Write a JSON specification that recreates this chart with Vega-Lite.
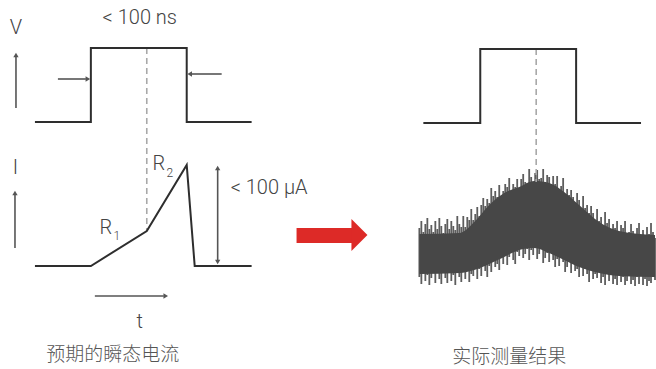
{
  "$schema": "https://vega.github.io/schema/vega-lite/v6.json",
  "width": 656,
  "height": 369,
  "autosize": {"type": "fit", "contains": "padding"},
  "padding": 0,
  "background": "white",
  "config": {"view": {"stroke": null}},
  "datasets": {
    "pulses": [
      {"series": "V理想", "i": 1, "x": 35, "y": 122},
      {"series": "V理想", "i": 2, "x": 91, "y": 122},
      {"series": "V理想", "i": 3, "x": 91, "y": 48},
      {"series": "V理想", "i": 4, "x": 187, "y": 48},
      {"series": "V理想", "i": 5, "x": 187, "y": 122},
      {"series": "V理想", "i": 6, "x": 252, "y": 122},
      {"series": "I理想", "i": 1, "x": 35, "y": 266},
      {"series": "I理想", "i": 2, "x": 91, "y": 266},
      {"series": "I理想", "i": 3, "x": 147, "y": 231},
      {"series": "I理想", "i": 4, "x": 187, "y": 165},
      {"series": "I理想", "i": 5, "x": 195, "y": 266},
      {"series": "I理想", "i": 6, "x": 252, "y": 266},
      {"series": "V实际", "i": 1, "x": 424, "y": 123},
      {"series": "V实际", "i": 2, "x": 481, "y": 123},
      {"series": "V实际", "i": 3, "x": 481, "y": 49},
      {"series": "V实际", "i": 4, "x": 577, "y": 49},
      {"series": "V实际", "i": 5, "x": 577, "y": 123},
      {"series": "V实际", "i": 6, "x": 642, "y": 123}
    ],
    "dashes": [
      {"x": 147, "y": 48, "x2": 147, "y2": 231},
      {"x": 537, "y": 49, "x2": 537, "y2": 182}
    ],
    "arrows": [
      {"x": 16, "y": 108, "x2": 16, "y2": 57},
      {"x": 15, "y": 248, "x2": 15, "y2": 195},
      {"x": 58, "y": 79, "x2": 86, "y2": 79},
      {"x": 222, "y": 74, "x2": 192, "y2": 74},
      {"x": 218, "y": 170, "x2": 218, "y2": 260},
      {"x": 95, "y": 296, "x2": 164, "y2": 296}
    ],
    "heads": [
      {"x": 16, "y": 55, "dir": "up"},
      {"x": 15, "y": 193, "dir": "up"},
      {"x": 88, "y": 79, "dir": "right"},
      {"x": 190, "y": 74, "dir": "left"},
      {"x": 218, "y": 168, "dir": "up"},
      {"x": 218, "y": 262, "dir": "down"},
      {"x": 166, "y": 296, "dir": "right"}
    ],
    "redShaft": [{"x": 297, "x2": 353, "y": 228, "y2": 243}],
    "redHead": [
      {"x": 352, "y": 219, "y2": 251},
      {"x": 368, "y": 235, "y2": 235}
    ],
    "noiseTrace": [
      {"x": 420, "y": 228, "y2": 277}, {"x": 422, "y": 221, "y2": 284}, {"x": 424, "y": 232, "y2": 272},
      {"x": 426, "y": 224, "y2": 281}, {"x": 428, "y": 218, "y2": 275}, {"x": 430, "y": 229, "y2": 285},
      {"x": 432, "y": 225, "y2": 278}, {"x": 434, "y": 232, "y2": 271}, {"x": 436, "y": 221, "y2": 283},
      {"x": 438, "y": 229, "y2": 273}, {"x": 440, "y": 218, "y2": 279}, {"x": 442, "y": 226, "y2": 284},
      {"x": 444, "y": 233, "y2": 269}, {"x": 446, "y": 224, "y2": 278}, {"x": 448, "y": 219, "y2": 283},
      {"x": 450, "y": 229, "y2": 272}, {"x": 452, "y": 221, "y2": 281}, {"x": 454, "y": 226, "y2": 275},
      {"x": 456, "y": 230, "y2": 285}, {"x": 458, "y": 216, "y2": 271}, {"x": 460, "y": 224, "y2": 277},
      {"x": 462, "y": 227, "y2": 282}, {"x": 464, "y": 216, "y2": 272}, {"x": 466, "y": 227, "y2": 279},
      {"x": 468, "y": 217, "y2": 269}, {"x": 470, "y": 220, "y2": 282}, {"x": 472, "y": 209, "y2": 274},
      {"x": 474, "y": 220, "y2": 276}, {"x": 476, "y": 214, "y2": 269}, {"x": 478, "y": 207, "y2": 279},
      {"x": 480, "y": 216, "y2": 269}, {"x": 482, "y": 205, "y2": 276}, {"x": 484, "y": 198, "y2": 263},
      {"x": 486, "y": 206, "y2": 271}, {"x": 488, "y": 199, "y2": 277}, {"x": 490, "y": 203, "y2": 266},
      {"x": 492, "y": 188, "y2": 272}, {"x": 494, "y": 196, "y2": 260}, {"x": 496, "y": 191, "y2": 267},
      {"x": 498, "y": 197, "y2": 264}, {"x": 500, "y": 185, "y2": 270}, {"x": 502, "y": 196, "y2": 258},
      {"x": 504, "y": 191, "y2": 264}, {"x": 506, "y": 184, "y2": 253}, {"x": 508, "y": 187, "y2": 265},
      {"x": 510, "y": 178, "y2": 257}, {"x": 512, "y": 191, "y2": 252}, {"x": 514, "y": 184, "y2": 260},
      {"x": 516, "y": 187, "y2": 264}, {"x": 518, "y": 179, "y2": 252}, {"x": 520, "y": 190, "y2": 256},
      {"x": 522, "y": 179, "y2": 246}, {"x": 524, "y": 174, "y2": 258}, {"x": 526, "y": 182, "y2": 254},
      {"x": 528, "y": 183, "y2": 249}, {"x": 530, "y": 169, "y2": 260}, {"x": 532, "y": 177, "y2": 250},
      {"x": 534, "y": 182, "y2": 255}, {"x": 536, "y": 173, "y2": 246}, {"x": 538, "y": 170, "y2": 259},
      {"x": 540, "y": 179, "y2": 254}, {"x": 542, "y": 178, "y2": 249}, {"x": 544, "y": 169, "y2": 263},
      {"x": 546, "y": 182, "y2": 258}, {"x": 548, "y": 175, "y2": 253}, {"x": 550, "y": 177, "y2": 262},
      {"x": 552, "y": 186, "y2": 251}, {"x": 554, "y": 176, "y2": 260}, {"x": 556, "y": 184, "y2": 267},
      {"x": 558, "y": 176, "y2": 259}, {"x": 560, "y": 189, "y2": 266}, {"x": 562, "y": 186, "y2": 257},
      {"x": 564, "y": 178, "y2": 262}, {"x": 566, "y": 195, "y2": 272}, {"x": 568, "y": 189, "y2": 267},
      {"x": 570, "y": 195, "y2": 262}, {"x": 572, "y": 190, "y2": 273}, {"x": 574, "y": 197, "y2": 260},
      {"x": 576, "y": 203, "y2": 271}, {"x": 578, "y": 193, "y2": 269}, {"x": 580, "y": 200, "y2": 277},
      {"x": 582, "y": 210, "y2": 266}, {"x": 584, "y": 196, "y2": 276}, {"x": 586, "y": 208, "y2": 269},
      {"x": 588, "y": 205, "y2": 274}, {"x": 590, "y": 213, "y2": 282}, {"x": 592, "y": 206, "y2": 268},
      {"x": 594, "y": 213, "y2": 279}, {"x": 596, "y": 221, "y2": 274}, {"x": 598, "y": 209, "y2": 278},
      {"x": 600, "y": 221, "y2": 270}, {"x": 602, "y": 217, "y2": 283}, {"x": 604, "y": 225, "y2": 277},
      {"x": 606, "y": 212, "y2": 285}, {"x": 608, "y": 223, "y2": 274}, {"x": 610, "y": 219, "y2": 281},
      {"x": 612, "y": 231, "y2": 274}, {"x": 614, "y": 224, "y2": 284}, {"x": 616, "y": 228, "y2": 279},
      {"x": 618, "y": 221, "y2": 285}, {"x": 620, "y": 232, "y2": 272}, {"x": 622, "y": 225, "y2": 282},
      {"x": 624, "y": 228, "y2": 277}, {"x": 626, "y": 221, "y2": 285}, {"x": 628, "y": 235, "y2": 281},
      {"x": 630, "y": 232, "y2": 274}, {"x": 632, "y": 224, "y2": 284}, {"x": 634, "y": 231, "y2": 280},
      {"x": 636, "y": 235, "y2": 286}, {"x": 638, "y": 228, "y2": 277}, {"x": 640, "y": 223, "y2": 284},
      {"x": 642, "y": 235, "y2": 274}, {"x": 644, "y": 230, "y2": 285}, {"x": 646, "y": 238, "y2": 279},
      {"x": 648, "y": 227, "y2": 286}, {"x": 650, "y": 234, "y2": 281}, {"x": 652, "y": 223, "y2": 283},
      {"x": 654, "y": 232, "y2": 276}, {"x": 656, "y": 238, "y2": 280}
    ],
    "noiseCore": [
      {"x": 420, "y": 234, "y2": 274}, {"x": 460, "y": 233, "y2": 273},
      {"x": 475, "y": 222, "y2": 270}, {"x": 490, "y": 205, "y2": 264},
      {"x": 505, "y": 193, "y2": 257}, {"x": 520, "y": 187, "y2": 250},
      {"x": 535, "y": 181, "y2": 248}, {"x": 550, "y": 183, "y2": 253},
      {"x": 565, "y": 192, "y2": 260}, {"x": 580, "y": 205, "y2": 267},
      {"x": 600, "y": 222, "y2": 273}, {"x": 620, "y": 231, "y2": 276},
      {"x": 656, "y": 235, "y2": 277}
    ],
    "labelsBig": [
      {"x": 16, "y": 28, "t": "V"},
      {"x": 140, "y": 18, "t": "< 100 ns"},
      {"x": 15.5, "y": 168, "t": "I"},
      {"x": 106, "y": 228, "t": "R"},
      {"x": 159, "y": 164, "t": "R"},
      {"x": 140, "y": 322, "t": "t"}
    ],
    "labelsSub": [
      {"x": 117, "y": 236, "t": "1"},
      {"x": 170, "y": 173, "t": "2"}
    ],
    "labelsLeft": [
      {"x": 231, "y": 188, "t": "< 100 µA"}
    ],
    "captions": [
      {"x": 113, "y": 355, "t": "预期的瞬态电流"},
      {"x": 510, "y": 357, "t": "实际测量结果"}
    ]
  },
  "encoding": {
    "x": {"field": "x", "type": "quantitative", "scale": {"domain": [0, 656], "nice": false, "zero": false}, "axis": null},
    "y": {"field": "y", "type": "quantitative", "scale": {"domain": [0, 369], "nice": false, "zero": false, "reverse": true}, "axis": null}
  },
  "layer": [
    {
      "data": {"name": "noiseTrace"},
      "mark": {"type": "rule", "color": "#474747", "opacity": 0.88, "strokeWidth": 1.8},
      "encoding": {"y2": {"field": "y2"}}
    },
    {
      "data": {"name": "noiseCore"},
      "mark": {"type": "area", "color": "#474747", "opacity": 1, "interpolate": "monotone"},
      "encoding": {"y2": {"field": "y2"}}
    },
    {
      "data": {"name": "dashes"},
      "mark": {"type": "rule", "color": "#a8a8a8", "strokeWidth": 1.6, "strokeDash": [6, 4]},
      "encoding": {"x2": {"field": "x2"}, "y2": {"field": "y2"}}
    },
    {
      "data": {"name": "pulses"},
      "mark": {"type": "line", "color": "#2e2e2e", "strokeWidth": 2, "strokeJoin": "miter"},
      "encoding": {"detail": {"field": "series"}, "order": {"field": "i", "type": "quantitative"}}
    },
    {
      "data": {"name": "arrows"},
      "mark": {"type": "rule", "color": "#555555", "strokeWidth": 1.6},
      "encoding": {"x2": {"field": "x2"}, "y2": {"field": "y2"}}
    },
    {
      "data": {"name": "heads"},
      "mark": {"type": "point", "filled": true, "color": "#555555", "size": 28, "opacity": 1},
      "encoding": {
        "shape": {"field": "dir", "type": "nominal", "scale": {"domain": ["up", "down", "left", "right"], "range": ["triangle-up", "triangle-down", "triangle-left", "triangle-right"]}, "legend": null}
      }
    },
    {
      "data": {"name": "redShaft"},
      "mark": {"type": "rect", "color": "#dd2a27"},
      "encoding": {"x2": {"field": "x2"}, "y2": {"field": "y2"}}
    },
    {
      "data": {"name": "redHead"},
      "mark": {"type": "area", "color": "#dd2a27", "opacity": 1},
      "encoding": {"y2": {"field": "y2"}}
    },
    {
      "data": {"name": "labelsBig"},
      "mark": {"type": "text", "font": "Roboto", "fontWeight": 300, "fontSize": 20, "color": "#444444", "align": "center", "baseline": "middle"},
      "encoding": {"text": {"field": "t"}}
    },
    {
      "data": {"name": "labelsSub"},
      "mark": {"type": "text", "font": "Roboto", "fontWeight": 300, "fontSize": 12, "color": "#444444", "align": "center", "baseline": "middle"},
      "encoding": {"text": {"field": "t"}}
    },
    {
      "data": {"name": "labelsLeft"},
      "mark": {"type": "text", "font": "Roboto", "fontWeight": 300, "fontSize": 20, "color": "#444444", "align": "left", "baseline": "middle"},
      "encoding": {"text": {"field": "t"}}
    },
    {
      "data": {"name": "captions"},
      "mark": {"type": "text", "font": "Noto Sans CJK SC", "fontWeight": 300, "fontSize": 19, "color": "#555555", "align": "center", "baseline": "middle"},
      "encoding": {"text": {"field": "t"}}
    }
  ]
}
